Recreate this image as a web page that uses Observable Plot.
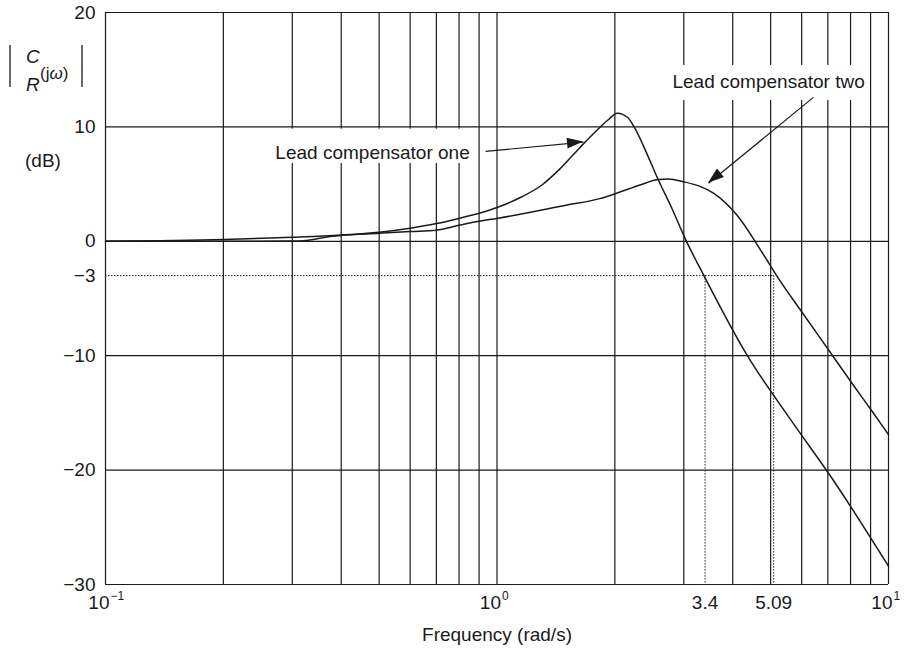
<!DOCTYPE html>
<html>
<head>
<meta charset="utf-8">
<script src="https://cdn.jsdelivr.net/npm/d3@7"></script>
<script src="https://cdn.jsdelivr.net/npm/@observablehq/plot@0.6"></script>
<style>
  body { margin: 0; background: #fff; }
  #chart { width: 905px; height: 653px; }
</style>
</head>
<body>
<div id="chart"></div>
<script>
// ---- grid / axis values ----
const gridFreqs = [0.1, 0.2, 0.3, 0.4, 0.5, 0.6, 0.7, 0.8, 0.9, 1, 2, 3, 4, 5, 6, 7, 8, 9, 10];
const gridLevels = [20, 10, 0, -10, -20, -30];
const yTickValues = [20, 10, 0, -3, -10, -20, -30];
const yTickLabels = ["20", "10", "0", "−3", "−10", "−20", "−30"];
const decadeTicks = [0.1, 1, 10];
const decadeExponents = ["−1", "0", "1"];
const cutoffFreqs = [3.4, 5.09];
const cutoffLabels = ["3.4", "5.09"];
const cutoffLevel = -3;

// ---- series: Lead compensator one ----
const freqOne = [0.1, 0.2, 0.3, 0.4, 0.5, 0.6, 0.7, 0.8, 0.9, 1.0, 1.15, 1.3, 1.45, 1.634, 1.83, 1.92, 2.03, 2.16, 2.24, 2.43, 2.58, 2.8, 3.0, 3.4, 4.36, 5.6, 7.2, 10];
const dbOne   = [0, 0.15, 0.35, 0.55, 0.8, 1.15, 1.55, 2.0, 2.45, 2.95, 3.85, 4.9, 6.35, 8.25, 9.95, 10.6, 11.2, 10.8, 10.0, 7.45, 5.4, 2.85, 0.5, -3.2, -10.0, -15.5, -20.8, -28.4];

// ---- series: Lead compensator two ----
const freqTwo = [0.1, 0.2, 0.3, 0.32, 0.38, 0.4, 0.5, 0.6, 0.7, 0.8, 0.9, 1.0, 1.5, 1.83, 2.02, 2.33, 2.58, 2.74, 3.0, 3.3, 3.58, 4.1, 4.76, 5.27, 6.07, 7.2, 8.1, 9.1, 10];
const dbTwo   = [0, 0.0, 0.03, 0.05, 0.45, 0.52, 0.7, 0.85, 0.97, 1.4, 1.75, 2.0, 3.15, 3.73, 4.2, 4.95, 5.4, 5.45, 5.2, 4.8, 4.2, 2.3, -1.0, -3.4, -6.4, -10.0, -12.5, -14.9, -16.9];

// ---- annotations ----
const labelNames = ["Lead compensator one", "Lead compensator two"];
const labelFreqs = [0.481, 4.94];
const labelDb = [7.77, 13.9];
const boxFreq1 = [0.256, 2.69];
const boxFreq2 = [0.892, 8.9];
const boxDb1 = [6.81, 12.31];
const boxDb2 = [9.8, 15.37];
const arrowFromFreq = [0.935, 6.43];
const arrowFromDb = [7.86, 12.58];
const arrowToFreq = [1.663, 3.47];
const arrowToDb = [8.67, 5.07];

const FONT = "'Liberation Sans', Arial, Helvetica, sans-serif";
const INK = "#1a1a1a";

const seriesOne = freqOne.map((f, i) => ({f, db: dbOne[i]}));
const seriesTwo = freqTwo.map((f, i) => ({f, db: dbTwo[i]}));
const labels = labelNames.map((t, i) => ({t, f: labelFreqs[i], db: labelDb[i]}));
const boxes = labelNames.map((t, i) => ({x1: boxFreq1[i], x2: boxFreq2[i], y1: boxDb1[i], y2: boxDb2[i]}));
const arrows = labelNames.map((t, i) => ({x1: arrowFromFreq[i], y1: arrowFromDb[i], x2: arrowToFreq[i], y2: arrowToDb[i]}));
const yTicks = yTickValues.map((v, i) => ({v, t: yTickLabels[i]}));
const decTicks = decadeTicks.map((v, i) => ({v, e: decadeExponents[i]}));
const cutTicks = cutoffFreqs.map((v, i) => ({v, t: cutoffLabels[i]}));
const cutH = [{y: cutoffLevel, x1: gridFreqs[0], x2: cutoffFreqs[cutoffFreqs.length - 1]}];
const cutV = cutoffFreqs.map(v => ({x: v, y1: cutoffLevel, y2: gridLevels[gridLevels.length - 1]}));

const plot = Plot.plot({
  width: 905,
  height: 653,
  marginLeft: 105,
  marginRight: 17,
  marginTop: 12,
  marginBottom: 69,
  style: {fontFamily: FONT, background: "white", overflow: "visible", color: INK},
  x: {type: "log", domain: [0.1, 10], axis: null},
  y: {domain: [-30, 20], axis: null},
  marks: [
    Plot.ruleX(gridFreqs, {stroke: INK, strokeWidth: 1.2}),
    Plot.ruleY(gridLevels, {stroke: INK, strokeWidth: 1.2}),
    Plot.ruleY(cutH, {y: "y", x1: "x1", x2: "x2", stroke: INK, strokeWidth: 1, strokeDasharray: "1.5,1.5"}),
    Plot.ruleX(cutV, {x: "x", y1: "y1", y2: "y2", stroke: INK, strokeWidth: 1, strokeDasharray: "1.5,1.5"}),
    Plot.rect(boxes, {x1: "x1", x2: "x2", y1: "y1", y2: "y2", fill: "white"}),
    Plot.line(seriesOne, {x: "f", y: "db", curve: "monotone-x", stroke: INK, strokeWidth: 1.5}),
    Plot.line(seriesTwo, {x: "f", y: "db", curve: "monotone-x", stroke: INK, strokeWidth: 1.5}),
    Plot.link(arrows, {x1: "x1", y1: "y1", x2: "x2", y2: "y2", stroke: INK, strokeWidth: 1.2}),
    Plot.text(labels, {x: "f", y: "db", text: "t", fontSize: 19, fill: INK, textAnchor: "middle"}),
    Plot.text(yTicks, {y: "v", text: "t", frameAnchor: "left", dx: -10, textAnchor: "end", fontSize: 19, fill: INK}),
    Plot.text(decTicks, {x: "v", text: () => "10", frameAnchor: "bottom", dy: 24, dx: 4, textAnchor: "end", fontSize: 19, fill: INK}),
    Plot.text(decTicks, {x: "v", text: "e", frameAnchor: "bottom", dy: 15, dx: 5, textAnchor: "start", fontSize: 12, fill: INK}),
    Plot.text(cutTicks, {x: "v", text: "t", frameAnchor: "bottom", dy: 24, textAnchor: "middle", fontSize: 19, fill: INK}),
    Plot.text(["Frequency (rad/s)"], {text: d => d, frameAnchor: "bottom", dy: 56, fontSize: 19, fill: INK})
  ]
});

document.getElementById("chart").appendChild(plot);

// arrowheads (filled) positioned through the plot's own scales
const sx = plot.scale("x"), sy = plot.scale("y");
const svg = d3.select(plot);
arrows.forEach(a => {
  const Sx = sx.apply(a.x1), Sy = sy.apply(a.y1);
  const Tx = sx.apply(a.x2), Ty = sy.apply(a.y2);
  const L = Math.hypot(Tx - Sx, Ty - Sy);
  const ux = (Tx - Sx) / L, uy = (Ty - Sy) / L;
  const nx = -uy, ny = ux;
  const len = 16, half = 5.5;
  const Bx = Tx - ux * len, By = Ty - uy * len;
  svg.append("polygon")
    .attr("points", [[Tx, Ty], [Bx + nx * half, By + ny * half], [Bx - nx * half, By - ny * half]].map(p => p.join(",")).join(" "))
    .attr("fill", INK);
});

// y-axis label |C/R(jω)| (dB)
const g = svg.append("g").attr("font-family", FONT).attr("fill", INK).attr("text-anchor", "start");
[10, 82].forEach(x => {
  g.append("line").attr("x1", x).attr("x2", x).attr("y1", 45).attr("y2", 87)
    .attr("stroke", INK).attr("stroke-width", 1.3);
});
g.append("text").attr("x", 26).attr("y", 63)
  .attr("font-size", 19).attr("font-style", "italic").text("C");
g.append("text").attr("x", 26).attr("y", 91)
  .attr("font-size", 19).attr("font-style", "italic").text("R");
const jw = g.append("text").attr("x", 40).attr("y", 79).attr("font-size", 17);
jw.append("tspan").text("(j");
jw.append("tspan").attr("font-style", "italic").text("ω");
jw.append("tspan").text(")");
g.append("text").attr("x", 43).attr("y", 167).attr("text-anchor", "middle")
  .attr("font-size", 19).text("(dB)");
</script>
</body>
</html>
